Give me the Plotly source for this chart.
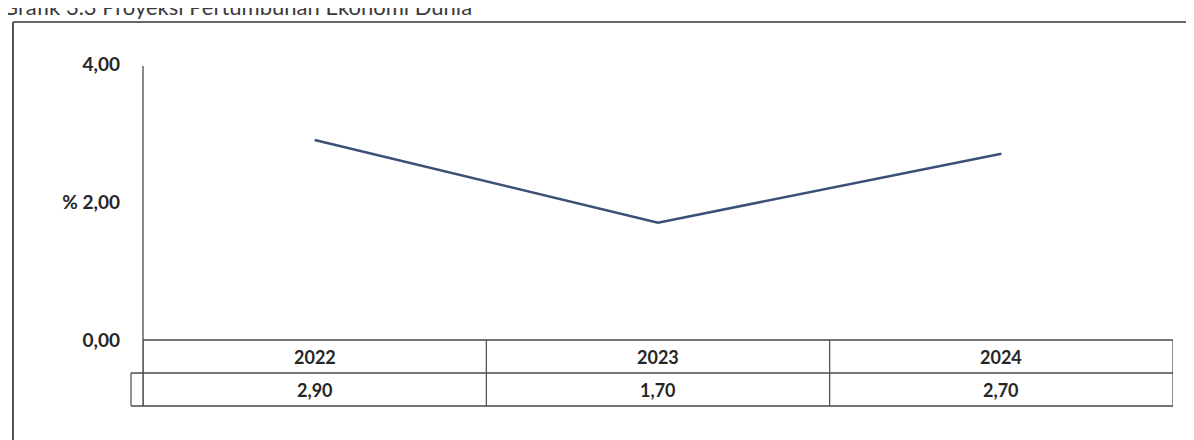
import plotly.graph_objects as go

# ---- data ----
years = ["2022", "2023", "2024"]
growth = [2.90, 1.70, 2.70]
ytick_vals = [0, 2, 4]
ytick_text = ["0,00", "% 2,00", "4,00"]
title_text = "Grafik 3.3 Proyeksi Pertumbuhan Ekonomi Dunia"

# ---- layout geometry (target window pixels) ----
OFF = 8  # page body margin
W, H = 1194 - OFF, 440 - OFF
PL, PR, PT, PB = 143, 1173, 64, 340   # plot area in window pixels
L, R, T, B = PL - OFF, W - (PR - OFF), PT - OFF, H - (PB - OFF)
PW, PH = PR - PL, PB - PT
ROW = 33

def px_x(px):
    return (px - PL) / PW

def px_y(py):
    return (PB - py) / PH

FONT = "Lato, 'Open Sans', sans-serif"
INK = "#262626"
GRID = "#4a4a4a"

fig = go.Figure()
xs = list(range(len(years)))
fig.add_trace(go.Scatter(
    x=xs, y=growth, mode="lines",
    line=dict(color="#3b5078", width=2.6),
    showlegend=False, hoverinfo="skip",
))

shapes = []
for k in range(3):
    y = px_y(PB + k * ROW)
    x0 = px_x(131) if k > 0 else 0
    shapes.append(dict(type="line", xref="paper", yref="paper",
                       x0=x0, x1=1, y0=y, y1=y,
                       line=dict(color=GRID, width=1.4)))
for b in [i - 0.5 for i in range(len(years) + 1)]:
    shapes.append(dict(type="line", xref="x", yref="paper",
                       x0=b, x1=b, y0=px_y(PB), y1=px_y(PB + 2 * ROW),
                       line=dict(color=GRID, width=1.2)))
shapes.append(dict(type="line", xref="paper", yref="paper",
                   x0=px_x(131), x1=px_x(131),
                   y0=px_y(PB + ROW), y1=px_y(PB + 2 * ROW),
                   line=dict(color=GRID, width=1.2)))
shapes.append(dict(type="line", xref="paper", yref="paper",
                   x0=0, x1=0, y0=px_y(66), y1=px_y(PB + 2 * ROW),
                   line=dict(color=GRID, width=1.3)))
# outer frame
shapes.append(dict(type="line", xref="paper", yref="paper",
                   x0=px_x(13), x1=px_x(13), y0=px_y(22), y1=px_y(450),
                   line=dict(color="#555555", width=2)))
shapes.append(dict(type="line", xref="paper", yref="paper",
                   x0=px_x(13), x1=px_x(1192), y0=px_y(22), y1=px_y(22),
                   line=dict(color="#666666", width=2)))
shapes.append(dict(type="line", xref="paper", yref="paper",
                   x0=px_x(1191), x1=px_x(1191), y0=px_y(22), y1=px_y(450),
                   line=dict(color="#d0d0d0", width=1)))

annotations = []
for i, (yr, v) in enumerate(zip(years, growth)):
    annotations.append(dict(x=i, y=px_y(PB + ROW / 2), xref="x", yref="paper",
                            xanchor="center", yanchor="middle",
                            text=f"<b>{yr}</b>", showarrow=False,
                            font=dict(family=FONT, size=18, color=INK)))
    annotations.append(dict(x=i, y=px_y(PB + 1.5 * ROW), xref="x", yref="paper",
                            xanchor="center", yanchor="middle",
                            text=f"<b>{v:.2f}</b>".replace(".", ","), showarrow=False,
                            font=dict(family=FONT, size=18, color=INK)))
annotations.append(dict(x=px_x(0), y=px_y(7), xref="paper", yref="paper",
                        xanchor="left", yanchor="middle", text=title_text,
                        showarrow=False,
                        font=dict(family=FONT, size=22, color="#3a3a3a")))

fig.update_layout(
    width=W, height=H,
    margin=dict(l=L, r=R, t=T, b=B),
    paper_bgcolor="white", plot_bgcolor="white",
    xaxis=dict(range=[-0.5, len(years) - 0.5], showticklabels=False,
               showgrid=False, zeroline=False, showline=False, ticks=""),
    yaxis=dict(range=[0, 4], tickvals=ytick_vals,
               ticktext=[f"<b>{t}</b>" for t in ytick_text],
               showgrid=False, zeroline=False, showline=False, ticks="",
               ticklabelstandoff=22,
               tickfont=dict(family=FONT, size=19, color=INK)),
    shapes=shapes, annotations=annotations,
)

fig.write_html("out.html")
